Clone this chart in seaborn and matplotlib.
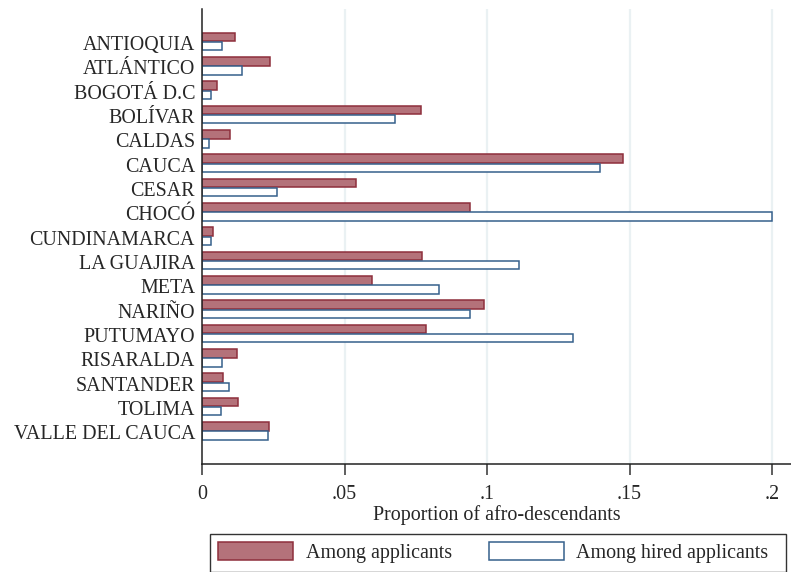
import matplotlib
matplotlib.use("Agg")
import matplotlib.pyplot as plt
import matplotlib.transforms as mtransforms
import seaborn as sns
import pandas as pd
from matplotlib.patches import Patch, Rectangle

departments = [
    "ANTIOQUIA", "ATLÁNTICO", "BOGOTÁ D.C", "BOLÍVAR", "CALDAS", "CAUCA",
    "CESAR", "CHOCÓ", "CUNDINAMARCA", "LA GUAJIRA", "META", "NARIÑO",
    "PUTUMAYO", "RISARALDA", "SANTANDER", "TOLIMA", "VALLE DEL CAUCA",
]
among_applicants = [
    0.0116, 0.0237, 0.0054, 0.0767, 0.0097, 0.1478,
    0.0542, 0.0939, 0.0037, 0.0771, 0.0598, 0.0991,
    0.0785, 0.0122, 0.0073, 0.0127, 0.0234,
]
among_hired = [
    0.0071, 0.0139, 0.0030, 0.0678, 0.0026, 0.1395,
    0.0263, 0.2000, 0.0030, 0.1114, 0.0832, 0.0940,
    0.1302, 0.0071, 0.0096, 0.0068, 0.0233,
]
series_labels = ["Among applicants", "Among hired applicants"]
x_ticks = [0, 0.05, 0.1, 0.15, 0.2]
x_tick_labels = ["0", ".05", ".1", ".15", ".2"]

df = pd.DataFrame({
    "department": departments * 2,
    "value": among_applicants + among_hired,
    "series": [series_labels[0]] * len(departments) + [series_labels[1]] * len(departments),
})

sns.set_style("white")
plt.rcParams["font.family"] = ["Liberation Serif", "DejaVu Serif"]

FS = 14.4
red_fill = "#b4727a"
red_edge = "#8e2f3c"
blue_edge = "#36608c"

fig = plt.figure(figsize=(7.91, 5.72), dpi=100)
ax = fig.add_axes([202 / 791, 1 - 464 / 572, 1 - 202 / 791, 455 / 572])

sns.barplot(
    data=df, y="department", x="value", hue="series", orient="h",
    order=departments, hue_order=series_labels, width=0.76, gap=0.08,
    palette=[red_fill, "white"], saturation=1, legend=False, ax=ax,
)

# Filled maroon bars for applicants, hollow navy outlines for hires
for bar in ax.containers[0]:
    bar.set_facecolor(red_fill)
    bar.set_edgecolor(red_edge)
    bar.set_linewidth(1.1)
for bar in ax.containers[1]:
    bar.set_facecolor("white")
    bar.set_edgecolor(blue_edge)
    bar.set_linewidth(1.1)

ax.set_xlim(0, 0.2 + 19 / 2850)
ax.set_ylim(16 + 33 / 24.28, -32.5 / 24.28)

ax.set_xticks(x_ticks)
ax.set_xticklabels(x_tick_labels, fontsize=FS)
ax.tick_params(axis="x", bottom=True, direction="out", length=8, width=1.1,
               color="#333333", pad=7)
ax.tick_params(axis="y", left=False, length=0, pad=5, labelsize=FS)
# nudge department names slightly below the group centre
offset = mtransforms.ScaledTranslation(0, -1.5 / 100, fig.dpi_scale_trans)
for lab in ax.get_yticklabels():
    lab.set_transform(lab.get_transform() + offset)
ax.set_ylabel("")
ax.set_xlabel("Proportion of afro-descendants", fontsize=FS, labelpad=1)

for x in x_ticks[1:]:
    ax.axvline(x, color="#eaf1f3", linewidth=1.6, zorder=0)

for side in ["top", "right"]:
    ax.spines[side].set_visible(False)
for side in ["left", "bottom"]:
    ax.spines[side].set_color("#222222")
    ax.spines[side].set_linewidth(1.1)

handles = [
    Patch(facecolor=red_fill, edgecolor=red_edge, linewidth=1.1),
    Patch(facecolor="white", edgecolor=blue_edge, linewidth=1.1),
]
leg = fig.legend(
    handles, series_labels, loc="upper left",
    bbox_to_anchor=(210 / 791, 1 - 534 / 572), ncol=2, fontsize=FS,
    frameon=False, borderpad=0.42,
    borderaxespad=0, handlelength=3.75, handleheight=1.0,
    handletextpad=0.63, columnspacing=1.83,
)

# legend box drawn by hand so it can leave extra room after the last entry
fig.canvas.draw()
bb = leg.get_window_extent()
fig.add_artist(Rectangle(
    (bb.x0, bb.y0), bb.width + 9, bb.height, transform=None,
    fill=False, edgecolor="#333333", linewidth=1.0,
))

fig.savefig("out.png", dpi=100)
